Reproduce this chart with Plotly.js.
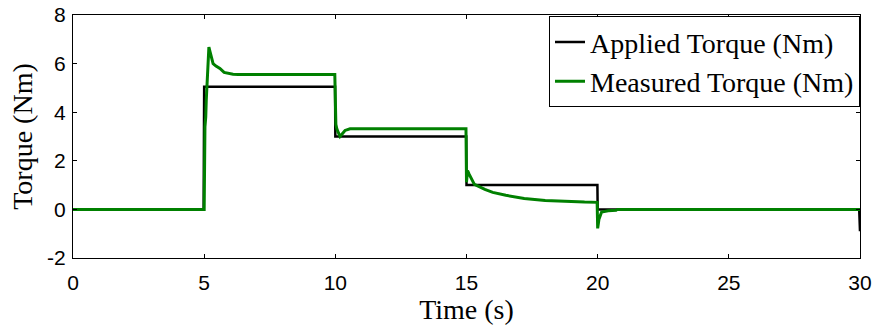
<!DOCTYPE html>
<html>
<head>
<meta charset="utf-8">
<script src="https://cdn.plot.ly/plotly-3.0.1.min.js"></script>
<style>html,body{margin:0;padding:0;background:#fff;}</style>
</head>
<body>
<div id="chart" style="width:875px;height:334px;"></div>
<script>
// Applied torque (step input)
const appliedTime   = [0, 4.98, 5.0, 9.99, 10.0, 14.99, 15.0, 19.99, 20.0, 29.97, 30.0];
const appliedTorque = [0, 0,    5.05, 5.05, 3.0,  3.0,   1.0,  1.0,   0.0,  0.0,   -0.9];

// Measured torque (sensor response)
const measuredTime   = [0, 5.0, 5.03, 5.06, 5.08, 5.12, 5.18, 5.22, 5.26, 5.34, 5.45, 5.6, 5.76, 5.9, 6.1, 6.3,
                        9.98, 10.02, 10.06, 10.18, 10.37, 10.56, 14.98, 15.0, 15.04, 15.1, 15.3, 15.7, 16.0, 16.5, 17.2, 18.0, 18.7, 19.5, 19.98,
                        20.0, 20.05, 20.15, 20.4, 20.7, 20.75, 30.0];
const measuredTorque = [0, 0,   3.4,  3.8,  4.5,  5.6,  6.68, 6.5,  6.3,  6.0,  5.9,  5.8, 5.64, 5.6, 5.56, 5.55,
                        5.55, 3.5,  3.3,  3.0,   3.25,  3.32, 3.32,  1.12, 1.6,   1.45, 1.03, 0.82, 0.70, 0.58, 0.45, 0.37, 0.33, 0.30, 0.29,
                        -0.78, -0.4, -0.11, -0.06, -0.04, 0.0, 0.0];

const xTicks = [0, 5, 10, 15, 20, 25, 30];
const yTicks = [-2, 0, 2, 4, 6, 8];

const serif = 'Liberation Serif, Times New Roman, serif';
const sans = 'Liberation Sans, Arial, sans-serif';

const traces = [
  {x: appliedTime, y: appliedTorque, type: 'scatter', mode: 'lines',
   name: 'Applied Torque (Nm)', line: {color: '#000000', width: 2.5}},
  {x: measuredTime, y: measuredTorque, type: 'scatter', mode: 'lines',
   name: 'Measured Torque (Nm)', line: {color: '#008000', width: 3}}
];

const axisCommon = {
  showgrid: false, zeroline: false, showline: true, mirror: 'ticks',
  linecolor: '#000', linewidth: 1, ticks: 'inside', ticklen: 4, tickcolor: '#000',
  tickfont: {family: sans, size: 21, color: '#000'}
};

const layout = {
  width: 875, height: 334,
  margin: {l: 73, r: 15, t: 15, b: 76},
  paper_bgcolor: '#fff', plot_bgcolor: '#fff',
  showlegend: true,
  legend: {x: 1, xanchor: 'right', y: 0.995, yanchor: 'top',
           bordercolor: '#000', borderwidth: 1, bgcolor: '#fff',
           font: {family: serif, size: 28, color: '#000'},
           tracegroupgap: 0},
  xaxis: Object.assign({}, axisCommon, {
    range: [0, 30], tickvals: xTicks, ticktext: xTicks.map(String),
    ticklabelstandoff: 6,
    title: {text: 'Time (s)', standoff: 6,
            font: {family: serif, size: 28, color: '#000'}}
  }),
  yaxis: Object.assign({}, axisCommon, {
    range: [-2, 8], tickvals: yTicks, ticktext: yTicks.map(String),
    ticklabelstandoff: 2,
    title: {text: 'Torque (Nm)', standoff: 6,
            font: {family: serif, size: 28, color: '#000'}}
  })
};

Plotly.newPlot('chart', traces, layout, {displayModeBar: false, staticPlot: true});
</script>
</body>
</html>
